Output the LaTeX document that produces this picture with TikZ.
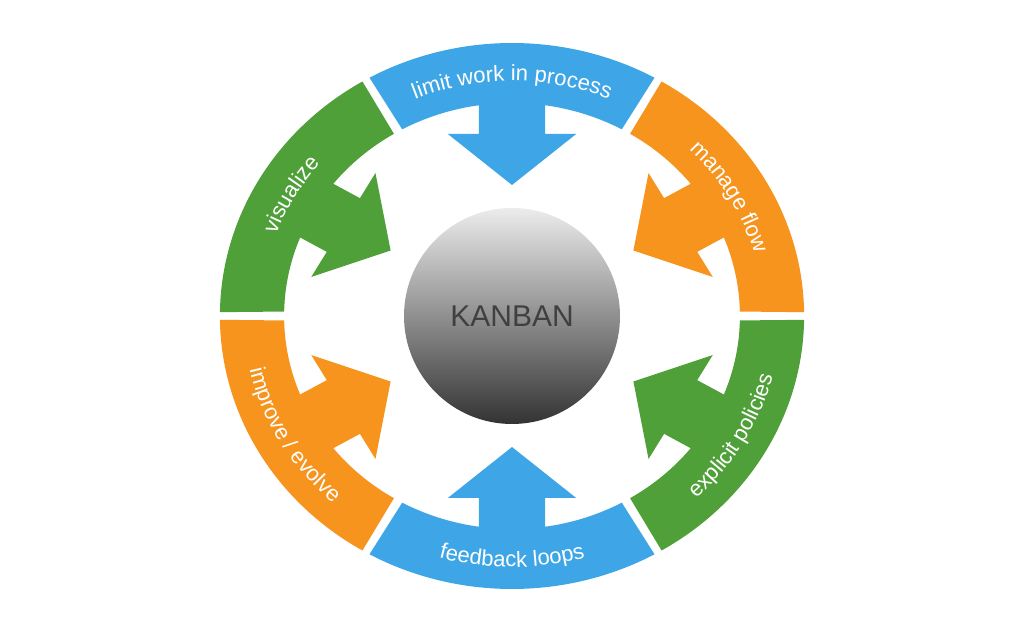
\documentclass[tikz,border=0pt]{standalone}
\usepackage{fontspec}
\setsansfont{Liberation Sans}
\usetikzlibrary{decorations.text}
\definecolor{kgreen}{RGB}{80,160,58}
\definecolor{korange}{RGB}{246,148,30}
\definecolor{kblue}{RGB}{62,166,230}
\tikzset{
  band/.style={fill=#1},
  ringtext/.style={decorate,decoration={text along path,text align=center,
      text color=white,text={|\sffamily\fontsize{22}{22}\selectfont|#1}}}
}
\begin{document}
\begin{tikzpicture}[x=1pt,y=1pt]
\useasboundingbox[fill=white] (0,0) rectangle (1024,631);

\begin{scope}[shift={(512,315)},xscale=1.07]
% ring segments with inward arrows
\foreach \a/\col in {90/kblue,30/korange,-30/kgreen,-90/kblue,210/korange,150/kgreen}
  {
    \fill[band=\col] (\a-28.8:213) arc[start angle=\a-28.8,end angle=\a+28.8,radius=213]
      -- (\a+29.2:273) arc[start angle=\a+29.2,end angle=\a-29.2,radius=273] -- cycle;
    \begin{scope}[rotate=\a]
      \fill[band=\col] (218,-31) -- (182,-31) -- (182,-60) -- (131,0) -- (182,60) -- (182,31) -- (218,31) -- cycle;
    \end{scope}
  }

% texts, tops outward
\foreach \a/\txt in {90/limit work in process,30/manage flow,150/visualize}
  \path[ringtext=\txt] (\a+29.5:235) arc[start angle=\a+29.5,end angle=\a-29.5,radius=235];
% texts, tops inward
\foreach \a/\txt in {-30/explicit policies,-90/feedback loops,210/{improve / evolve}}
  \path[ringtext=\txt] (\a-29.5:251) arc[start angle=\a-29.5,end angle=\a+29.5,radius=251];
\end{scope}

\node[circle,minimum size=216pt,inner sep=0pt,shading=axis,top color=gray!15,
  middle color=gray!55,bottom color=black!80,font=\sffamily\fontsize{30}{30}\selectfont,
  text=black!75] (kanban) at (512,315) {KANBAN};
\end{tikzpicture}
\end{document}
